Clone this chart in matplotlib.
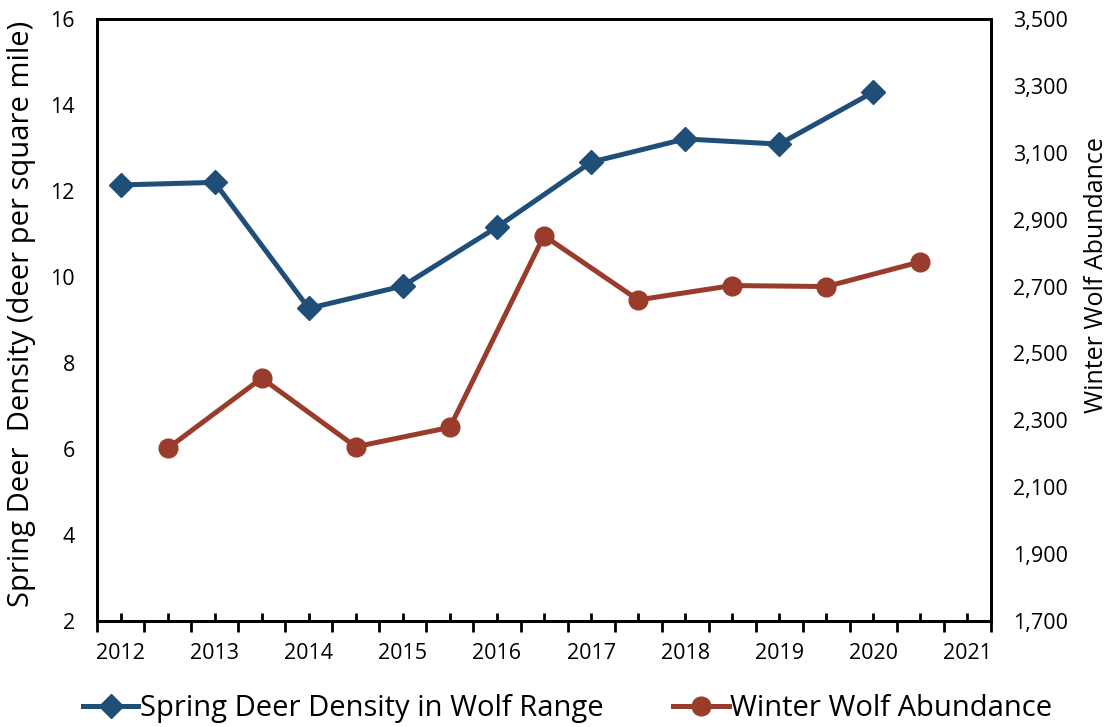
import numpy as np
import matplotlib
matplotlib.use("Agg")
import matplotlib.pyplot as plt

plt.rcParams['font.family'] = ['Open Sans', 'DejaVu Sans']

# data
years = [2012, 2013, 2014, 2015, 2016, 2017, 2018, 2019, 2020]
deer_density = [12.14, 12.20, 9.27, 9.79, 11.16, 12.67, 13.21, 13.09, 14.30]
wolf_abundance = [2216, 2426, 2221, 2279, 2852, 2660, 2703, 2700, 2774]
left_ticks = [2, 4, 6, 8, 10, 12, 14, 16]
right_ticks = [1700, 1900, 2100, 2300, 2500, 2700, 2900, 3100, 3300, 3500]

BLUE = "#1F4E79"
RED = "#9A3C2B"

fig = plt.figure(figsize=(11.13, 7.27), dpi=100)
ax = fig.add_axes([0.0872, 0.1458, 0.8032, 0.8281])
ax2 = ax.twinx()

# wolf counts are winter values, sit half a year to the right
wolf_x = np.array(years) + 0.5

ax.plot(years, deer_density, color=BLUE, lw=3.6, marker='D', ms=12,
        label="Spring Deer Density in Wolf Range", zorder=3)
ax2.plot(wolf_x, wolf_abundance, color=RED, lw=3.6, marker='o', ms=13.5,
         label="Winter Wolf Abundance", zorder=3)

ax.set_xlim(2011.75, 2021.25)
ax.set_ylim(2, 16)
ax2.set_ylim(1700, 3500)

# outward ticks between the points, inward ticks at each point
ax.set_xticks(np.arange(2011.75, 2021.3, 0.5))
ax.set_xticklabels([])
minor_pos = np.arange(2012, 2021.01, 0.5)
minor_lab = [str(int(p)) if p == int(p) else '' for p in minor_pos]
ax.set_xticks(minor_pos, labels=minor_lab, minor=True)
ax.tick_params(axis='x', which='major', direction='out', length=8, width=2)
ax.tick_params(axis='x', which='minor', direction='in', length=6, width=2,
               labelsize=15.5, pad=16)

ax.set_yticks(left_ticks)
ax.tick_params(axis='y', length=0, labelsize=15.5, pad=16)
ax2.set_yticks(right_ticks)
ax2.set_yticklabels([f"{v:,}" for v in right_ticks])
ax2.tick_params(axis='y', length=0, labelsize=15.5, pad=16)

for a in (ax, ax2):
    for s in a.spines.values():
        s.set_linewidth(2)
        s.set_color('black')

ax.set_ylabel("Spring Deer  Density (deer per square mile)", fontsize=21)
ax.yaxis.set_label_coords(-0.068, 0.51)
ax2.set_ylabel("Winter Wolf Abundance", fontsize=18, rotation=90)
ax2.yaxis.set_label_coords(1.104, 0.575)

h1, l1 = ax.get_legend_handles_labels()
h2, l2 = ax2.get_legend_handles_labels()
fig.legend(h1 + h2, l1 + l2, loc='center', bbox_to_anchor=(0.51, 0.025),
           ncol=2, frameon=False, fontsize=21, handlelength=1.9,
           handletextpad=0.05, columnspacing=2.4, borderpad=0)

fig.savefig("out.png", dpi=100)
